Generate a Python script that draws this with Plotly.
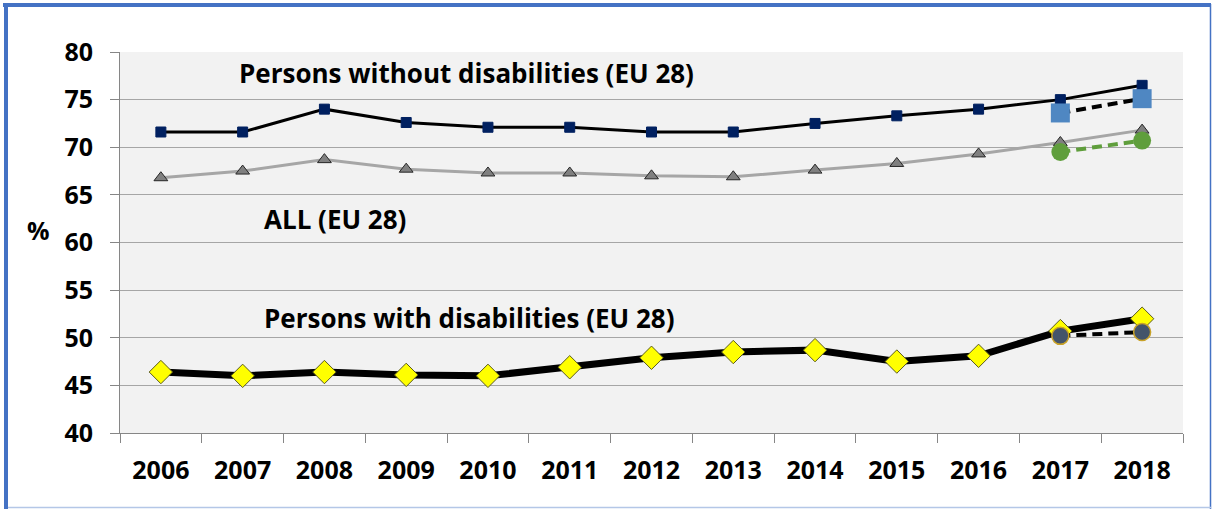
import plotly.graph_objects as go

years = ["2006", "2007", "2008", "2009", "2010", "2011", "2012",
         "2013", "2014", "2015", "2016", "2017", "2018"]
without_dis = [71.6, 71.6, 74.0, 72.6, 72.1, 72.1, 71.6, 71.6, 72.5, 73.3, 74.0, 75.0, 76.5]
all_eu = [66.8, 67.5, 68.7, 67.7, 67.3, 67.3, 67.0, 66.9, 67.6, 68.3, 69.3, 70.5, 71.8]
with_dis = [46.4, 46.0, 46.4, 46.1, 46.0, 46.9, 47.9, 48.5, 48.7, 47.5, 48.1, 50.7, 52.0]

recent_years = ["2017", "2018"]
without_alt = [73.6, 75.1]
all_alt = [69.5, 70.7]
with_alt = [50.2, 50.6]

y_ticks = [40, 45, 50, 55, 60, 65, 70, 75, 80]

FONT = "Open Sans"

fig = go.Figure()

fig.add_trace(go.Scatter(
    x=years, y=all_eu, mode="lines+markers",
    line=dict(color="#A6A6A6", width=3),
    marker=dict(symbol="triangle-up", size=12, color="#808080",
                line=dict(color="#262626", width=1)),
    showlegend=False))

fig.add_trace(go.Scatter(
    x=years, y=without_dis, mode="lines+markers",
    line=dict(color="#000000", width=3),
    marker=dict(symbol="square", size=10, color="#002060",
                line=dict(color="#002060", width=1)),
    showlegend=False))

fig.add_trace(go.Scatter(
    x=years, y=with_dis, mode="lines+markers",
    line=dict(color="#000000", width=7),
    marker=dict(symbol="diamond", size=18, color="#FFFF00",
                line=dict(color="#5A5A1E", width=1)),
    showlegend=False))

fig.add_trace(go.Scatter(
    x=recent_years, y=without_alt, mode="lines+markers",
    line=dict(color="#000000", width=4, dash="10px,6px"),
    marker=dict(symbol="square", size=19, color="#4F87C2"),
    showlegend=False))

fig.add_trace(go.Scatter(
    x=recent_years, y=all_alt, mode="lines+markers",
    line=dict(color="#5F9E3C", width=4, dash="10px,6px"),
    marker=dict(symbol="circle", size=18, color="#5F9E3C"),
    showlegend=False))

fig.add_trace(go.Scatter(
    x=recent_years, y=with_alt, mode="lines+markers",
    line=dict(color="#000000", width=4, dash="10px,6px"),
    marker=dict(symbol="circle", size=17, color="#44546A",
                line=dict(color="#C9A227", width=1.5)),
    showlegend=False))

annots = [
    dict(text="Persons without disabilities (EU 28)", x=3.74, y=77.8),
    dict(text="ALL (EU 28)", x=2.13, y=62.5),
    dict(text="Persons with disabilities (EU 28)", x=3.77, y=52.1),
]
for a in annots:
    fig.add_annotation(x=a["x"], y=a["y"], xref="x", yref="y", text=a["text"],
                       showarrow=False, xanchor="center", yanchor="middle",
                       font=dict(family=FONT, size=26, color="#000000", weight="bold"))

fig.add_annotation(x=-0.077, y=0.533, xref="paper", yref="paper", text="%",
                   showarrow=False, xanchor="center", yanchor="middle",
                   font=dict(family=FONT, size=25, color="#000000", weight="bold"))

# frame around the whole picture
W, H = 1214, 509
L, R, T, B = 120, 31, 52, 76
pw, ph = W - L - R, H - T - B
def px(xp):
    return (xp - L) / pw
def py(yp):
    return (H - B - yp) / ph

fig.add_shape(type="line", xref="paper", yref="paper", x0=px(1210.5), x1=px(1210.5),
              y0=py(4), y1=py(509), line=dict(color="#4472C4", width=1.5))
fig.add_shape(type="line", xref="paper", yref="paper", x0=px(4), x1=px(1211),
              y0=py(507.5), y1=py(507.5), line=dict(color="#B4C7E7", width=1.5))
fig.add_shape(type="line", xref="paper", yref="paper", x0=px(3), x1=px(1211),
              y0=py(5), y1=py(5), line=dict(color="#4472C4", width=4))
fig.add_shape(type="line", xref="paper", yref="paper", x0=px(6), x1=px(6),
              y0=py(3), y1=py(509), line=dict(color="#4472C4", width=4))

fig.update_layout(
    width=W, height=H,
    margin=dict(l=L, r=R, t=T, b=B),
    paper_bgcolor="#FFFFFF",
    plot_bgcolor="#F2F2F2",
    font=dict(family=FONT, size=25, color="#000000"),
    xaxis=dict(
        type="category", range=[-0.5, 12.5],
        showgrid=False, showline=True, linecolor="#868686", linewidth=1,
        ticks="outside", tickson="boundaries", ticklen=9, tickcolor="#868686",
        tickfont=dict(family=FONT, size=25, color="#000000", weight="bold"),
        ticklabelstandoff=15,
    ),
    yaxis=dict(
        range=[40, 80], tickvals=y_ticks,
        showgrid=True, gridcolor="#A6A6A6", gridwidth=1,
        showline=True, linecolor="#868686", linewidth=1,
        ticks="outside", ticklen=9, tickcolor="#868686",
        tickfont=dict(family=FONT, size=25, color="#000000", weight="bold"),
        ticklabelstandoff=12, zeroline=False,
    ),
)

fig.write_html("out.html", config={"displayModeBar": False},
               post_script="document.body.style.margin='0px';")
